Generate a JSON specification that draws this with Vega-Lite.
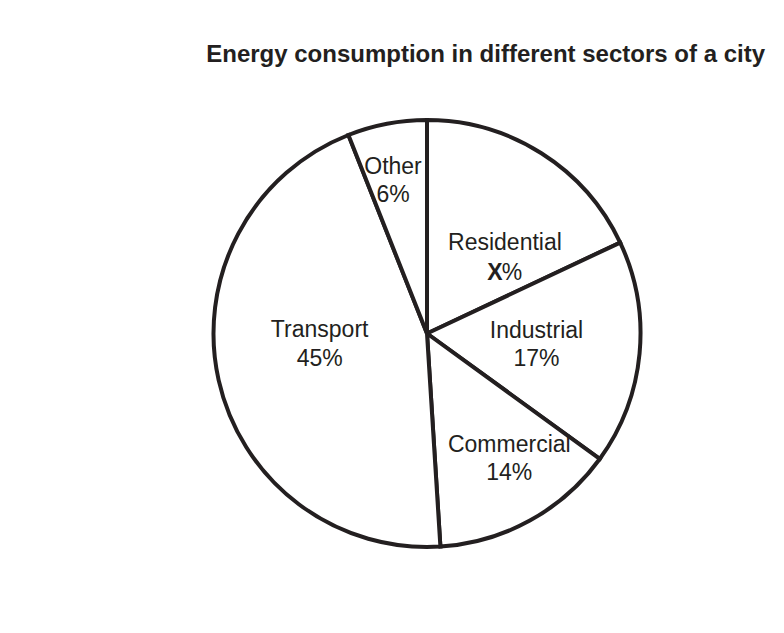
{
  "$schema": "https://vega.github.io/schema/vega-lite/v6.json",
  "width": 714,
  "height": 599,
  "autosize": {"type": "none"},
  "padding": {"left": 70, "top": 34, "right": 0, "bottom": 0},
  "background": "white",
  "title": {
    "text": "Energy consumption in different sectors of a city",
    "anchor": "end",
    "frame": "group",
    "font": "Liberation Sans",
    "fontSize": 24,
    "fontWeight": "bold",
    "color": "#231f20",
    "baseline": "alphabetic",
    "offset": 0,
    "dy": 52,
    "dx": -19
  },
  "data": {
    "values": [
      {"sector": "Residential", "value": 18, "pct": "X%", "rank": 1},
      {"sector": "Industrial", "value": 17, "pct": "17%", "rank": 2},
      {"sector": "Commercial", "value": 14, "pct": "14%", "rank": 3},
      {"sector": "Transport", "value": 45, "pct": "45%", "rank": 4},
      {"sector": "Other", "value": 6, "pct": "6%", "rank": 5}
    ]
  },
  "transform": [{"calculate": "[datum.sector, datum.pct]", "as": "lines"}],
  "encoding": {
    "theta": {"field": "value", "type": "quantitative", "stack": true},
    "order": {"field": "rank", "type": "quantitative"}
  },
  "layer": [
    {"mark": {"type": "arc", "radius": 213.5, "fill": "white", "stroke": "#231f20", "strokeWidth": 4, "strokeJoin": "miter"}},
    {
      "mark": {"type": "text", "radius": 110, "dx": 19, "dy": 2.4, "align": "center", "baseline": "middle"},
      "encoding": {"text": {"condition": {"test": "datum.sector === 'Residential'", "field": "sector"}, "value": ""}}
    },
    {
      "mark": {"type": "text", "radius": 110, "dx": 9, "dy": 32, "align": "center", "baseline": "middle", "fontWeight": "bold"},
      "encoding": {"text": {"condition": {"test": "datum.sector === 'Residential'", "value": "X"}, "value": ""}}
    },
    {
      "mark": {"type": "text", "radius": 110, "dx": 26, "dy": 32, "align": "center", "baseline": "middle"},
      "encoding": {"text": {"condition": {"test": "datum.sector === 'Residential'", "value": "%"}, "value": ""}}
    },
    {
      "mark": {"type": "text", "radius": 110, "dx": 0, "dy": -13, "align": "center", "baseline": "middle", "lineHeight": 28},
      "encoding": {"text": {"condition": {"test": "datum.sector === 'Industrial'", "field": "lines"}, "value": ""}}
    },
    {
      "mark": {"type": "text", "radius": 148, "dx": 11, "dy": -18, "align": "center", "baseline": "middle", "lineHeight": 28},
      "encoding": {"text": {"condition": {"test": "datum.sector === 'Commercial'", "field": "lines"}, "value": ""}}
    },
    {
      "mark": {"type": "text", "radius": 110, "dx": 0, "dy": -27.5, "align": "center", "baseline": "middle", "lineHeight": 29},
      "encoding": {"text": {"condition": {"test": "datum.sector === 'Transport'", "field": "lines"}, "value": ""}}
    },
    {
      "mark": {"type": "text", "radius": 160, "dx": -4, "dy": -9, "align": "center", "baseline": "middle", "lineHeight": 28},
      "encoding": {"text": {"condition": {"test": "datum.sector === 'Other'", "field": "lines"}, "value": ""}}
    }
  ],
  "config": {
    "view": {"stroke": null},
    "text": {"font": "Liberation Sans", "fontSize": 23, "fill": "#231f20"}
  }
}
